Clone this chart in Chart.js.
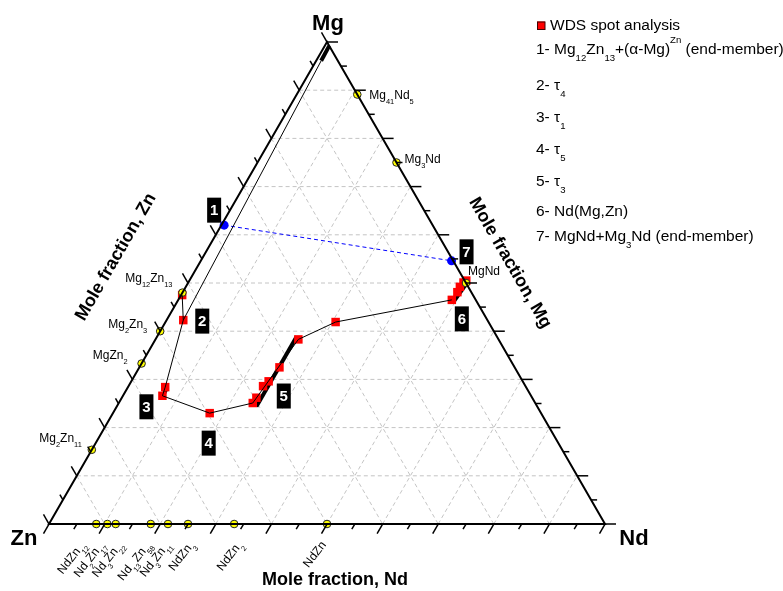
<!DOCTYPE html>
<html>
<head>
<meta charset="utf-8">
<script src="https://cdn.jsdelivr.net/npm/chart.js@4.4.1/dist/chart.umd.min.js"></script>
<style>
  html, body { margin: 0; padding: 0; background: #fff; }
  canvas { display: block; }
</style>
</head>
<body>
<canvas id="ternary" width="783" height="591"></canvas>
<script>
// Compositions in at.% (Zn = 100 - Mg - Nd)

// WDS spot analyses (red squares)
const wdsMg = [47.5, 42.3, 28.4, 26.6, 23.0, 25.1, 26.2, 28.6, 29.6, 32.5, 38.3, 41.9, 46.5, 48.1, 49.2, 50.1, 50.5];
const wdsNd = [0.2, 3.0, 6.7, 7.1, 17.4, 24.1, 24.2, 24.2, 24.7, 25.2, 25.7, 30.6, 49.2, 49.4, 49.3, 49.5, 49.8];

// thin tie line through the analyses
const pathMg = [96.1, 42.3, 28.4, 26.6, 23.0, 25.1, 38.3, 41.9, 46.5];
const pathNd = [0.9, 3.0, 6.7, 7.1, 17.4, 24.1, 25.7, 30.6, 49.2];
const stubMg = [47.5, 42.3];
const stubNd = [0.2, 3.0];

// homogeneity ranges (thick lines)
const alphaMgMg = [99.2, 96.1];
const alphaMgNd = [0.8, 0.9];
const tau1Mg = [26.3, 27.8];
const tau1Nd = [7.2, 7.1];
const tau3Mg = [24.4, 38.9];
const tau3Nd = [25.1, 25.1];
const ndMgZnMg = [46.1, 50.4];
const ndMgZnNd = [49.7, 50.2];

// end-members (blue circles)
const endMg = [62.0, 54.6];
const endNd = [0.5, 45.1];

// binary compounds (yellow circles)
const compoundNames = ["Mg_{12}Zn_{13}", "Mg_{2}Zn_{3}", "MgZn_{2}", "Mg_{2}Zn_{11}",
  "Mg_{41}Nd_{5}", "Mg_{3}Nd", "MgNd",
  "NdZn_{12}", "Nd_{2}Zn_{17}", "Nd_{3}Zn_{22}", "Nd_{13}Zn_{58}", "Nd_{3}Zn_{11}", "NdZn_{3}", "NdZn_{2}", "NdZn"];
const compoundMg = [48, 40, 33.3, 15.4, 89.1, 75, 50, 0, 0, 0, 0, 0, 0, 0, 0];
const compoundNd = [0, 0, 0, 0, 10.9, 25, 50, 8.5, 10.5, 12, 18.3, 21.4, 25, 33.3, 50];

const legendLines = ["1- Mg_{12}Zn_{13}+(α-Mg)^{Zn} (end-member)", "2- τ_{4}", "3- τ_{1}", "4- τ_{5}",
  "5- τ_{3}", "6- Nd(Mg,Zn)", "7- MgNd+Mg_{3}Nd (end-member)"];

const SQ3 = Math.sqrt(3) / 2;
const FONT = '"Liberation Sans", Arial, sans-serif';

function toXY(mg, nd) {
  return { x: nd / 100 + mg / 200, y: (mg / 100) * SQ3 };
}
function points(mg, nd) {
  return mg.map((m, i) => toXY(m, nd[i]));
}
function toPx(chart, mg, nd) {
  const p = toXY(mg, nd);
  return [chart.scales.x.getPixelForValue(p.x), chart.scales.y.getPixelForValue(p.y)];
}

// text with _{sub} and ^{sup}
function richParts(str) {
  const parts = [];
  const re = /([_^])\{([^}]*)\}|([^_^]+)/g;
  let m;
  while ((m = re.exec(str))) {
    if (m[3]) parts.push({ t: m[3], k: 0 });
    else parts.push({ t: m[2], k: m[1] === "_" ? 1 : -1 });
  }
  return parts;
}
function drawRich(ctx, str, x, y, size, align, bold) {
  const parts = richParts(str);
  const font = s => (bold ? "bold " : "") + s + "px " + FONT;
  let w = 0;
  parts.forEach(p => {
    ctx.font = font(p.k ? size * 0.62 : size);
    p.w = ctx.measureText(p.t).width;
    w += p.w;
  });
  let cx = align === "right" ? x - w : align === "center" ? x - w / 2 : x;
  ctx.textAlign = "left";
  ctx.textBaseline = "middle";
  parts.forEach(p => {
    ctx.font = font(p.k ? size * 0.62 : size);
    const dy = p.k === 1 ? size * 0.55 : p.k === -1 ? -size * 0.6 : 0;
    ctx.fillText(p.t, cx, y + dy);
    cx += p.w;
  });
}

// label offsets from their points (px)
const compoundLabelPos = [
  { dx: -10, dy: -14, align: "right" }, { dx: -13, dy: -7, align: "right" },
  { dx: -14, dy: -8, align: "right" }, { dx: -10, dy: -11, align: "right" },
  { dx: 12, dy: 1, align: "left" }, { dx: 8, dy: -3, align: "left" }, { dx: 2, dy: -11, align: "left" },
  { dx: -13 }, { dx: -5 }, { dx: 5 }, { dx: -2 }, { dx: 0 }, { dx: 4 }, { dx: 6 }, { dx: -3 }
];
// number boxes: [text, series, index, dx, dy]
const numberBoxes = [
  ["1", "end", 0, -10, -15], ["2", "wds", 1, 19, 1], ["3", "wds", 3, -16, 11],
  ["4", "wds", 4, -1, 30], ["5", "wds", 5, 31, -7], ["6", "wds", 12, 10, 19], ["7", "end", 1, 15, -9]
];

function line(ctx, x1, y1, x2, y2) {
  ctx.beginPath();
  ctx.moveTo(x1, y1);
  ctx.lineTo(x2, y2);
  ctx.stroke();
}

const ternaryFrame = {
  id: "ternaryFrame",
  beforeDatasetsDraw(chart) {
    const ctx = chart.ctx;
    ctx.save();
    ctx.strokeStyle = "#c4c4c4";
    ctx.lineWidth = 1;
    ctx.setLineDash([4, 3]);
    for (let k = 10; k < 100; k += 10) {
      let a = toPx(chart, k, 0), b = toPx(chart, k, 100 - k);
      line(ctx, a[0], a[1], b[0], b[1]);
      a = toPx(chart, 0, k); b = toPx(chart, 100 - k, k);
      line(ctx, a[0], a[1], b[0], b[1]);
      a = toPx(chart, 100 - k, 0); b = toPx(chart, 0, 100 - k);
      line(ctx, a[0], a[1], b[0], b[1]);
    }
    ctx.restore();
  },
  afterDatasetsDraw(chart) {
    const ctx = chart.ctx;
    ctx.save();
    ctx.strokeStyle = "#000";
    ctx.lineWidth = 2;
    const zn = toPx(chart, 0, 0), nd = toPx(chart, 0, 100), mg = toPx(chart, 100, 0);
    ctx.beginPath();
    ctx.moveTo(zn[0], zn[1]);
    ctx.lineTo(nd[0], nd[1]);
    ctx.lineTo(mg[0], mg[1]);
    ctx.closePath();
    ctx.stroke();
    ctx.lineWidth = 1.5;
    for (let k = 0; k <= 100; k += 5) {
      const len = k % 10 === 0 ? 11 : 6;
      let p = toPx(chart, 0, k);
      line(ctx, p[0], p[1], p[0] - 0.5 * len, p[1] + SQ3 * len);
      p = toPx(chart, k, 100 - k);
      line(ctx, p[0], p[1], p[0] + len, p[1]);
      p = toPx(chart, 100 - k, 0);
      line(ctx, p[0], p[1], p[0] - 0.5 * len, p[1] - SQ3 * len);
    }
    ctx.restore();
  },
  afterDraw(chart) {
    const ctx = chart.ctx;
    ctx.save();
    ctx.fillStyle = "#000";

    // compound labels
    compoundNames.forEach((name, i) => {
      const p = toPx(chart, compoundMg[i], compoundNd[i]);
      const lp = compoundLabelPos[i];
      if (compoundMg[i] === 0) {
        ctx.save();
        ctx.translate(p[0] + lp.dx, p[1] + 19);
        ctx.rotate(-52 * Math.PI / 180);
        drawRich(ctx, name, 0, 0, 12, "right", false);
        ctx.restore();
      } else {
        drawRich(ctx, name, p[0] + lp.dx, p[1] + lp.dy, 12, lp.align, false);
      }
    });

    // number boxes
    numberBoxes.forEach(([t, series, i, dx, dy]) => {
      const p = series === "end" ? toPx(chart, endMg[i], endNd[i]) : toPx(chart, wdsMg[i], wdsNd[i]);
      const x = p[0] + dx, y = p[1] + dy;
      ctx.fillStyle = "#000";
      ctx.fillRect(x - 7, y - 12.5, 14, 25);
      ctx.fillStyle = "#fff";
      ctx.font = "bold 15px " + FONT;
      ctx.textAlign = "center";
      ctx.textBaseline = "middle";
      ctx.fillText(t, x, y + 1);
    });

    // vertex labels
    ctx.fillStyle = "#000";
    ctx.font = "bold 22px " + FONT;
    ctx.textAlign = "center";
    ctx.textBaseline = "alphabetic";
    ctx.fillText("Mg", 328, 30);
    ctx.fillText("Zn", 24, 545);
    ctx.fillText("Nd", 634, 545);

    // axis titles
    ctx.font = "bold 18px " + FONT;
    ctx.textBaseline = "middle";
    ctx.fillText("Mole fraction, Nd", 335, 580);
    ctx.save();
    ctx.translate(116, 257);
    ctx.rotate(-60 * Math.PI / 180);
    ctx.fillText("Mole fraction, Zn", 0, 0);
    ctx.restore();
    ctx.save();
    ctx.translate(510, 263);
    ctx.rotate(60 * Math.PI / 180);
    ctx.fillText("Mole fraction, Mg", 0, 0);
    ctx.restore();

    // legend
    ctx.fillStyle = "#ff0000";
    ctx.fillRect(537, 21.5, 8, 8);
    ctx.strokeStyle = "#400000";
    ctx.lineWidth = 1;
    ctx.strokeRect(537.5, 22, 7.5, 7.5);
    ctx.fillStyle = "#000";
    drawRich(ctx, "WDS spot analysis", 550, 25.5, 15.5, "left", false);
    const legendY = [50, 86, 118, 150, 182, 212, 236.5];
    legendLines.forEach((t, i) => drawRich(ctx, t, 536, legendY[i], 15.5, "left", false));
    ctx.restore();
  }
};

const thick = (mg, nd) => ({
  data: points(mg, nd), showLine: true, borderColor: "#000", borderWidth: 4,
  pointRadius: 0, clip: false
});

new Chart(document.getElementById("ternary"), {
  type: "scatter",
  data: {
    datasets: [
      { data: points(pathMg, pathNd), showLine: true, borderColor: "#000", borderWidth: 1, pointRadius: 0, clip: false },
      { data: points(stubMg, stubNd), showLine: true, borderColor: "#000", borderWidth: 1, pointRadius: 0, clip: false },
      { data: points(endMg, endNd), showLine: true, borderColor: "#0000ff", borderWidth: 1, borderDash: [4, 3],
        pointRadius: 4.5, pointBackgroundColor: "#0000ff", pointBorderWidth: 0, clip: false },
      {
        data: points(compoundMg, compoundNd), pointRadius: 3.8, pointBackgroundColor: "#ffff00",
        pointBorderColor: "#222", pointBorderWidth: 1, clip: false
      },
      { data: points(wdsMg, wdsNd), pointStyle: "rect", pointRadius: 6, pointBackgroundColor: "#ff0000",
        pointBorderWidth: 0, clip: false },
      thick(alphaMgMg, alphaMgNd),
      thick(tau1Mg, tau1Nd),
      thick(tau3Mg, tau3Nd),
      thick(ndMgZnMg, ndMgZnNd)
    ]
  },
  options: {
    responsive: false,
    devicePixelRatio: 1,
    animation: false,
    layout: { padding: { left: 49, right: 178, top: 42, bottom: 67 } },
    scales: {
      x: { type: "linear", min: 0, max: 1, display: false },
      y: { type: "linear", min: 0, max: SQ3, display: false }
    },
    plugins: { legend: { display: false }, tooltip: { enabled: false } }
  },
  plugins: [ternaryFrame]
});
</script>
</body>
</html>
